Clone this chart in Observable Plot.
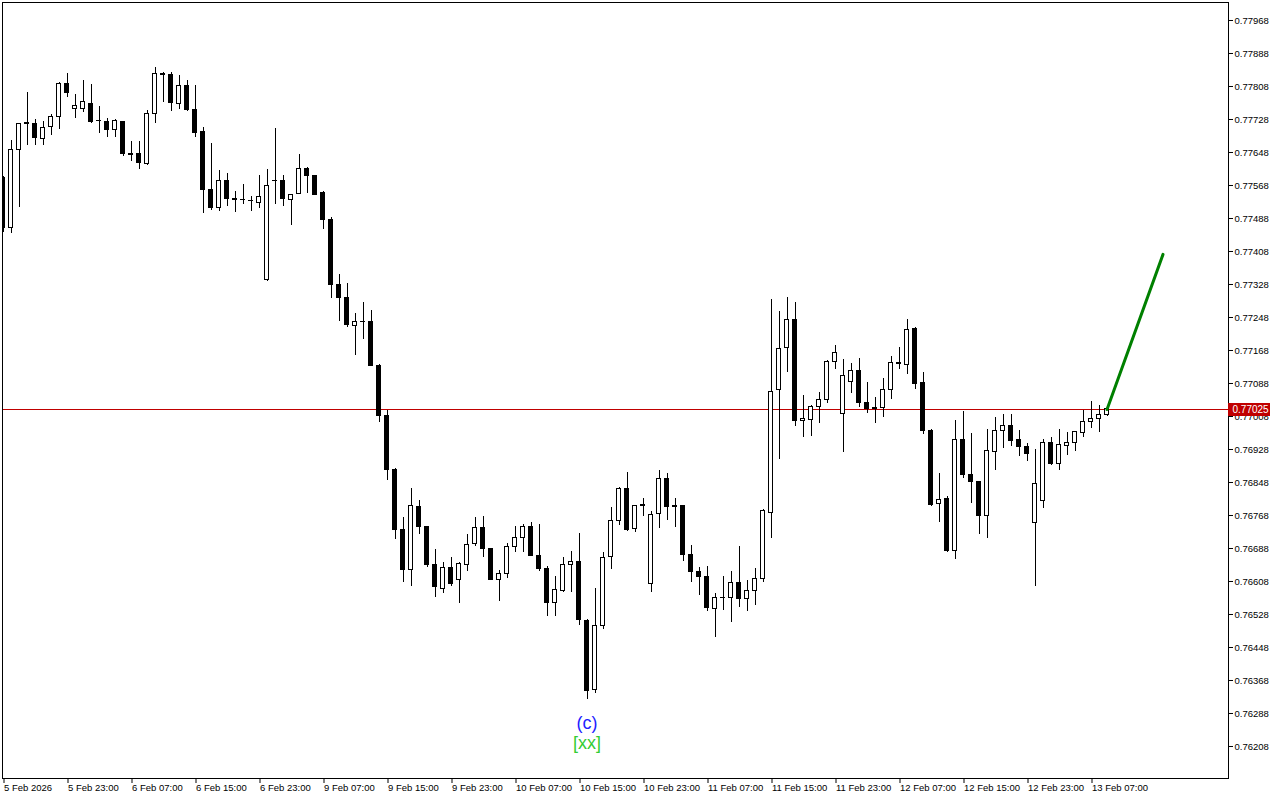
<!DOCTYPE html>
<html><head><meta charset="utf-8">
<script src="https://cdn.jsdelivr.net/npm/d3@7"></script>
<script src="https://cdn.jsdelivr.net/npm/@observablehq/plot@0.6"></script>
<style>html,body{margin:0;padding:0;background:#fff;} svg{display:block;}</style>
</head><body><div id="chart"></div>
<script>
// Hourly candles, 5 Feb 2026 15:00 .. 13 Feb 2026 09:00 (index = bar number)
const opens = [0.77587,0.77466,0.77653,0.77718,0.77718,0.77681,0.77709,0.77734,0.77815,0.77753,
0.77753,0.77766,0.77724,0.77722,0.77703,0.77722,0.77644,0.77645,0.77620,0.77742,
0.77839,0.77837,0.77765,0.77808,0.77752,0.77697,0.77558,0.77513,0.77578,0.77535,
0.77533,0.77531,0.77525,0.77340,0.77579,0.77578,0.77533,0.77548,0.77609,0.77592,
0.77549,0.77485,0.77326,0.77295,0.77228,0.77238,0.77238,0.77131,0.77009,0.76878,
0.76734,0.76635,0.76789,0.76740,0.76647,0.76590,0.76640,0.76612,0.76649,0.76699,
0.76738,0.76687,0.76612,0.76627,0.76692,0.76714,0.76741,0.76670,0.76638,0.76556,
0.76586,0.76649,0.76655,0.76513,0.76344,0.76500,0.76667,0.76755,0.76833,0.76736,
0.76792,0.76602,0.76772,0.76857,0.76788,0.76790,0.76672,0.76631,0.76619,0.76542,
0.76568,0.76568,0.76605,0.76566,0.76585,0.76615,0.76775,0.77072,0.77174,0.77242,
0.76998,0.77000,0.77032,0.77048,0.77141,0.77015,0.77092,0.77119,0.77041,0.77027,
0.77029,0.77073,0.77138,0.77134,0.77219,0.77089,0.76973,0.76796,0.76808,0.76681,
0.76952,0.76867,0.76848,0.76767,0.76922,0.76973,0.76985,0.76952,0.76935,0.76750,
0.76804,0.76944,0.76892,0.76937,0.76944,0.76969,0.76995,0.77002,0.77012];
const highs = [0.77590,0.77677,0.77718,0.77794,0.77727,0.77723,0.77740,0.77818,0.77840,0.77789,
0.77823,0.77813,0.77760,0.77730,0.77727,0.77724,0.77675,0.77675,0.77750,0.77855,
0.77843,0.77841,0.77835,0.77823,0.77810,0.77709,0.77670,0.77604,0.77596,0.77553,
0.77570,0.77541,0.77592,0.77607,0.77706,0.77592,0.77547,0.77643,0.77612,0.77593,
0.77553,0.77490,0.77352,0.77330,0.77258,0.77284,0.77265,0.77134,0.77023,0.76883,
0.76763,0.76833,0.76804,0.76742,0.76686,0.76654,0.76666,0.76654,0.76722,0.76763,
0.76766,0.76688,0.76635,0.76699,0.76741,0.76746,0.76751,0.76746,0.76644,0.76620,
0.76665,0.76681,0.76724,0.76515,0.76592,0.76678,0.76787,0.76835,0.76872,0.76793,
0.76809,0.76778,0.76876,0.76869,0.76809,0.76792,0.76695,0.76641,0.76644,0.76578,
0.76620,0.76632,0.76693,0.76610,0.76639,0.76783,0.77292,0.77263,0.77297,0.77284,
0.77058,0.77034,0.77065,0.77144,0.77180,0.77145,0.77136,0.77148,0.77090,0.77053,
0.77099,0.77153,0.77175,0.77243,0.77223,0.77114,0.76977,0.76869,0.76813,0.76998,
0.77019,0.76966,0.76850,0.76976,0.77005,0.77013,0.77013,0.76973,0.76942,0.76927,
0.76952,0.76957,0.76976,0.76969,0.76972,0.77023,0.77044,0.77035,0.77027];
const lows = [0.77454,0.77452,0.77515,0.77665,0.77665,0.77665,0.77689,0.77704,0.77782,0.77731,
0.77745,0.77719,0.77695,0.77685,0.77684,0.77639,0.77625,0.77606,0.77617,0.77718,
0.77768,0.77748,0.77752,0.77748,0.77685,0.77501,0.77507,0.77506,0.77517,0.77503,
0.77522,0.77506,0.77513,0.77336,0.77522,0.77517,0.77472,0.77548,0.77549,0.77544,
0.77462,0.77295,0.77238,0.77224,0.77156,0.77195,0.77129,0.76994,0.76854,0.76710,
0.76606,0.76596,0.76722,0.76643,0.76568,0.76580,0.76597,0.76555,0.76633,0.76694,
0.76665,0.76611,0.76560,0.76616,0.76679,0.76679,0.76669,0.76632,0.76524,0.76522,
0.76582,0.76582,0.76502,0.76321,0.76337,0.76491,0.76636,0.76743,0.76730,0.76726,
0.76766,0.76582,0.76737,0.76756,0.76740,0.76657,0.76606,0.76574,0.76536,0.76473,
0.76538,0.76509,0.76546,0.76536,0.76551,0.76606,0.76713,0.76904,0.77115,0.76984,
0.76958,0.76960,0.76992,0.77039,0.77121,0.76921,0.77063,0.77029,0.77015,0.76992,
0.77005,0.77048,0.77123,0.77109,0.77073,0.76964,0.76791,0.76750,0.76679,0.76662,
0.76858,0.76796,0.76723,0.76712,0.76878,0.76931,0.76936,0.76912,0.76900,0.76597,
0.76784,0.76888,0.76878,0.76914,0.76924,0.76958,0.76978,0.76970,0.77009];
const closes = [0.77466,0.77653,0.77718,0.77719,0.77683,0.77708,0.77735,0.77815,0.77792,0.77760,
0.77771,0.77723,0.77725,0.77703,0.77725,0.77644,0.77643,0.77622,0.77742,0.77839,
0.77837,0.77768,0.77808,0.77750,0.77695,0.77557,0.77513,0.77580,0.77535,0.77534,
0.77532,0.77530,0.77541,0.77566,0.77580,0.77535,0.77546,0.77607,0.77591,0.77546,
0.77484,0.77326,0.77295,0.77229,0.77238,0.77237,0.77131,0.77009,0.76878,0.76734,
0.76635,0.76790,0.76740,0.76647,0.76594,0.76641,0.76601,0.76651,0.76697,0.76738,
0.76686,0.76612,0.76627,0.76692,0.76714,0.76741,0.76670,0.76638,0.76555,0.76588,
0.76649,0.76656,0.76514,0.76342,0.76499,0.76665,0.76755,0.76833,0.76732,0.76792,
0.76793,0.76770,0.76857,0.76788,0.76790,0.76672,0.76631,0.76618,0.76543,0.76568,
0.76569,0.76605,0.76566,0.76585,0.76615,0.76778,0.77068,0.77172,0.77242,0.76997,
0.77001,0.77032,0.77048,0.77141,0.77162,0.77107,0.77119,0.77041,0.77025,0.77029,
0.77073,0.77138,0.77136,0.77218,0.77087,0.76973,0.76793,0.76806,0.76682,0.76952,
0.76867,0.76849,0.76767,0.76925,0.76973,0.76985,0.76949,0.76934,0.76917,0.76845,
0.76944,0.76892,0.76939,0.76944,0.76971,0.76995,0.77002,0.77012,0.77025];

// Time axis labels (every 8 bars)
const timeLabelIdx = [0,8,16,24,32,40,48,56,64,72,80,88,96,104,112,120,128,136];
const timeLabels = ["5 Feb 2026","5 Feb 23:00","6 Feb 07:00","6 Feb 15:00","6 Feb 23:00",
  "9 Feb 07:00","9 Feb 15:00","9 Feb 23:00","10 Feb 07:00","10 Feb 15:00","10 Feb 23:00",
  "11 Feb 07:00","11 Feb 15:00","11 Feb 23:00","12 Feb 07:00","12 Feb 15:00","12 Feb 23:00","13 Feb 07:00"];
// Price axis ticks
const priceTicks = [0.77968,0.77888,0.77808,0.77728,0.77648,0.77568,0.77488,0.77408,0.77328,
  0.77248,0.77168,0.77088,0.77008,0.76928,0.76848,0.76768,0.76688,0.76608,0.76528,0.76448,
  0.76368,0.76288,0.76208];
// Current price and projected wave line
const lastPrice = 0.77025;
const projIdx = [138, 145];
const projPrice = [0.77025, 0.77401];
// Wave labels at the bar-73 low
const waveBar = 73;
const waveLabels = ["(c)", "[xx]"];
const waveColors = ["#1e1eff", "#33cc33"];

const xDomain = [-0.0625, 153.1875];
const yDomain = [0.761304, 0.780116];

const candles = opens.map((o, i) => ({i, open: o, high: highs[i], low: lows[i], close: closes[i]}));
const proj = projIdx.map((i, k) => ({i, price: projPrice[k]}));
const wave = [{i: waveBar, low: lows[waveBar]}];

const chart = Plot.plot({
  width: 1280, height: 800,
  marginTop: 2, marginLeft: 2, marginRight: 52, marginBottom: 22,
  style: {fontFamily: '"Liberation Sans", Arial, sans-serif', fontSize: "9.5px", background: "#fff", color: "#000", overflow: "visible"},
  x: {type: "linear", domain: xDomain, label: null},
  y: {type: "linear", domain: yDomain, label: null},
  marks: [
    Plot.ruleY([lastPrice], {stroke: "#c00000", strokeWidth: 1, shapeRendering: "crispEdges"}),
    Plot.ruleX(candles, {x: "i", y1: "low", y2: "high", stroke: "#000", strokeWidth: 1, shapeRendering: "crispEdges", clip: true}),
    Plot.rect(candles, {
      x1: d => d.i - 0.25, x2: d => d.i + 0.25, y1: "open", y2: "close",
      fill: d => d.close >= d.open ? "#ffffff" : "#000000",
      stroke: "#000", strokeWidth: 1, shapeRendering: "crispEdges", clip: true
    }),
    Plot.line(proj, {x: "i", y: "price", stroke: "#008000", strokeWidth: 3}),
    Plot.text(wave, {x: "i", y: "low", text: () => waveLabels[0], dy: 23, fill: waveColors[0], fontSize: 18}),
    Plot.text(wave, {x: "i", y: "low", text: () => waveLabels[1], dy: 43, fill: waveColors[1], fontSize: 18}),
    Plot.frame({stroke: "#000", shapeRendering: "crispEdges"}),
    Plot.axisY({anchor: "right", ticks: priceTicks, tickFormat: d => d.toFixed(5), tickSize: 4, tickPadding: 2, label: null}),
    Plot.axisX({anchor: "bottom", ticks: timeLabelIdx, tickFormat: d => timeLabels[timeLabelIdx.indexOf(d)], tickSize: 5, tickPadding: 1, textAnchor: "start", dx: 1, label: null}),
    Plot.ruleY([lastPrice], {x1: xDomain[1], x2: xDomain[1] + 5.25, stroke: "#c00000", strokeWidth: 13}),
    Plot.text([lastPrice], {y: d => d, text: d => d.toFixed(5), frameAnchor: "right", dx: 4, textAnchor: "start", fill: "#fff", fontSize: 10})
  ]
});
document.getElementById("chart").appendChild(chart);
</script>
</body></html>
